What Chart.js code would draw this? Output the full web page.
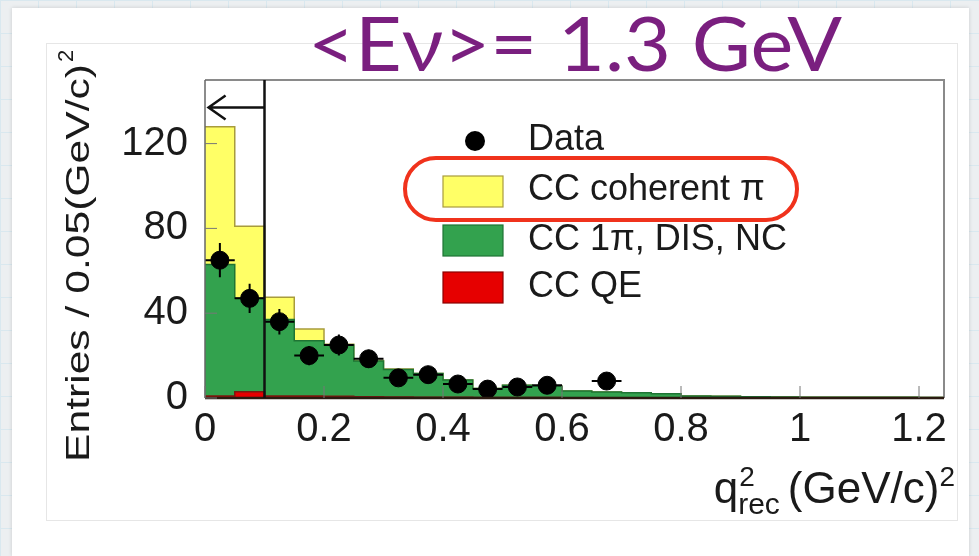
<!DOCTYPE html>
<html><head><meta charset="utf-8">
<script src="https://cdn.jsdelivr.net/npm/chart.js@4.4.1/dist/chart.umd.min.js"></script>
<style>
html,body{margin:0;padding:0;}
body{width:979px;height:556px;position:relative;overflow:hidden;background-color:#eceff1;
background-image:linear-gradient(#d9e8ef 1px,transparent 1px),linear-gradient(90deg,#d9e8ef 1px,transparent 1px);background-size:38px 33px;}
#panel{position:absolute;left:12px;top:8px;right:10px;bottom:0;background:#fff;box-shadow:0 0 4px rgba(0,0,0,0.15);}
#card{position:absolute;left:46px;top:43px;width:910px;height:476px;border:1px solid #e6e6e6;background:#fff;}
canvas{position:absolute;left:0;top:0;}
</style></head><body>
<div id="panel"></div><div id="card"></div>
<canvas id="c" width="979" height="556"></canvas>
<script>
// ---- data ----
const binLeftEdges = [0,0.05,0.1,0.15,0.2,0.25,0.3,0.35,0.4,0.45,0.5,0.55,0.6,0.65,0.7,0.75,0.8,0.85,0.9,0.95,1.0,1.05,1.1,1.15,1.2];
const histEnd = 1.25;
const ccQE       = [1,3,1,1,0.8,0.6,0.5,0.4,0.3,0.2,0.2,0.2,0.1,0.1,0,0,0,0,0,0,0,0,0,0,0];
const cc1piDisNc = [62,44,36,26,24.2,16.9,13,11.1,8.2,4.3,5.8,5.3,3.2,2.7,2.5,2,1,0.8,0.6,0.5,0.4,0.4,0.3,0.3,0.2];
const ccCoherent = [65,34,10.5,5.5,0.3,0.2,0.2,0.1,0,0,0,0,0,0,0,0,0,0,0,0,0,0,0,0,0];
const dataX   = [0.025,0.075,0.125,0.175,0.225,0.275,0.325,0.375,0.425,0.475,0.525,0.575,0.625,0.675];
const dataY   = [65,47,36,20,25,18.5,9.5,11,6.6,4.2,5.2,6,null,8];
const dataErr = [8.1,6.9,6,4.5,5,4.3,3.1,3.3,2.6,2,2.3,2.4,null,2.8];
const binHalfWidth = 0.025;
const xTickValues = [0,0.2,0.4,0.6,0.8,1.0,1.2];
const xTickLabels = ['0','0.2','0.4','0.6','0.8','1','1.2'];
const yTickValues = [0,40,80,120];
const yTickLabels = ['0','40','80','120'];
const cutValue = 0.1, arrowValue = 137, arrowTipValue = 0.006;
const legendLabels = ['Data','CC coherent \u03c0','CC 1\u03c0, DIS, NC','CC QE'];
const titleText = '<E\u03bd>= 1.3 GeV';

const FONT = "'Liberation Sans', Arial, sans-serif";
const C_YEL = '#ffff66', C_YEL_B = '#a89c3c';
const C_GRN = '#33a24e', C_GRN_B = '#1f7434';
const C_RED = '#e60000', C_RED_B = '#7a1a10';

function steps(vals){
  const pts = binLeftEdges.map((e,i)=>({x:e,y:vals[i]}));
  pts.push({x:histEnd,y:vals[vals.length-1]});
  return pts;
}

const overlay = {
  id:'overlay',
  afterDatasetsDraw(chart){
    const {ctx, chartArea:a, scales:{x,y}} = chart;
    ctx.save();
    // error bars
    ctx.strokeStyle='#000'; ctx.lineWidth=2;
    dataX.forEach((xv,i)=>{
      const v=dataY[i]; if(v==null) return;
      const px=x.getPixelForValue(xv), py=y.getPixelForValue(v);
      ctx.beginPath();
      ctx.moveTo(x.getPixelForValue(xv-binHalfWidth),py); ctx.lineTo(x.getPixelForValue(xv+binHalfWidth),py);
      ctx.moveTo(px,y.getPixelForValue(v-dataErr[i])); ctx.lineTo(px,y.getPixelForValue(v+dataErr[i]));
      ctx.stroke();
    });
    // frame
    ctx.lineWidth=2; ctx.strokeStyle='#8a8a8a';
    ctx.beginPath(); ctx.moveTo(a.left,a.top); ctx.lineTo(a.right,a.top); ctx.lineTo(a.right,a.bottom); ctx.stroke();
    ctx.strokeStyle='#666'; ctx.lineWidth=1.5;
    ctx.beginPath(); ctx.moveTo(a.left,a.top); ctx.lineTo(a.left,a.bottom); ctx.stroke();
    ctx.strokeStyle='#2a1a10'; ctx.lineWidth=2.5;
    ctx.beginPath(); ctx.moveTo(a.left,a.bottom); ctx.lineTo(a.right,a.bottom); ctx.stroke();
    // ticks
    ctx.strokeStyle='#777'; ctx.lineWidth=1;
    xTickValues.forEach(v=>{const px=x.getPixelForValue(v); ctx.beginPath(); ctx.moveTo(px,a.bottom); ctx.lineTo(px,a.bottom-12); ctx.stroke();});
    yTickValues.forEach(v=>{const py=y.getPixelForValue(v); ctx.beginPath(); ctx.moveTo(a.left,py); ctx.lineTo(a.left+12,py); ctx.stroke();});
    // cut line + arrow
    const cx = x.getPixelForValue(cutValue), ay = y.getPixelForValue(arrowValue), tx = x.getPixelForValue(arrowTipValue);
    ctx.strokeStyle='#111'; ctx.lineWidth=2.5;
    ctx.beginPath(); ctx.moveTo(cx,a.bottom); ctx.lineTo(cx,a.top); ctx.stroke();
    ctx.lineWidth=2.5;
    ctx.beginPath(); ctx.moveTo(cx,ay); ctx.lineTo(tx,ay);
    ctx.moveTo(tx+17,ay-12); ctx.lineTo(tx,ay); ctx.lineTo(tx+17,ay+12); ctx.stroke();
    ctx.restore();
  },
  afterDraw(chart){
    const ctx = chart.ctx;
    ctx.save();
    // legend
    ctx.fillStyle='#000';
    ctx.beginPath(); ctx.arc(475,141,10,0,Math.PI*2); ctx.fill();
    const boxes=[[C_YEL,C_YEL_B,176],[C_GRN,C_GRN_B,225],[C_RED,'#8a0000',272]];
    boxes.forEach(b=>{ctx.fillStyle=b[0]; ctx.fillRect(443,b[2],60,31); ctx.strokeStyle=b[1]; ctx.lineWidth=1.2; ctx.strokeRect(443,b[2],60,31);});
    ctx.fillStyle='#1a1a1a'; ctx.font='36px '+FONT; ctx.textBaseline='middle'; ctx.textAlign='left';
    const ly=[140,190,240,287];
    legendLabels.forEach((t,i)=>ctx.fillText(t,528,ly[i]));
    // highlight pill
    ctx.strokeStyle='#f0321c'; ctx.lineWidth=4;
    ctx.beginPath(); ctx.roundRect(405,158,392,62,31); ctx.stroke();
    // main title
    ctx.fillStyle='#7a1f7f'; ctx.font="76px Lato, 'Liberation Sans', sans-serif"; ctx.textBaseline='alphabetic';
    let w = ctx.measureText(titleText).width;
    ctx.save(); ctx.translate(308,71); ctx.scale(534/w,1); ctx.fillText(titleText,0,0); ctx.restore();
    // y title
    ctx.fillStyle='#1a1a1a';
    ctx.save(); ctx.translate(89,462); ctx.rotate(-Math.PI/2);
    ctx.font='33px '+FONT;
    const yMain='Entries / 0.05(GeV/c)';
    w = ctx.measureText(yMain).width;
    const sy = 398/w;
    ctx.save(); ctx.scale(sy,1); ctx.fillText(yMain,0,0); ctx.restore();
    ctx.font='22px '+FONT; ctx.fillText('2',398+2,-16);
    ctx.restore();
    // x title
    ctx.font='44px '+FONT;
    const wq=ctx.measureText('q').width, wg=ctx.measureText('(GeV/c)').width;
    ctx.font='28px '+FONT; const w2=ctx.measureText('2').width;
    ctx.font='30px '+FONT; const wr=ctx.measureText('rec').width;
    const total = wq + Math.max(w2,wr) + 8 + wg + w2;
    let x0 = 955 - total;
    ctx.font='44px '+FONT; ctx.fillText('q',x0,503);
    ctx.font='28px '+FONT; ctx.fillText('2',x0+wq+1,486);
    ctx.font='30px '+FONT; ctx.fillText('rec',x0+wq,514);
    let x1 = x0+wq+Math.max(w2,wr)+8;
    ctx.font='44px '+FONT; ctx.fillText('(GeV/c)',x1,503);
    ctx.font='28px '+FONT; ctx.fillText('2',x1+wg,486);
    ctx.restore();
  }
};

Chart.defaults.font.family = FONT;
new Chart(document.getElementById('c'),{
  type:'line',
  data:{datasets:[
    {label:'CC QE',data:steps(ccQE),stepped:'before',fill:'origin',backgroundColor:C_RED,borderColor:C_RED_B,borderWidth:1.5,pointRadius:0},
    {label:'CC 1pi, DIS, NC',data:steps(cc1piDisNc),stepped:'before',fill:'-1',backgroundColor:C_GRN,borderColor:C_GRN_B,borderWidth:1.5,pointRadius:0},
    {label:'CC coherent pi',data:steps(ccCoherent),stepped:'before',fill:'-1',backgroundColor:C_YEL,borderColor:C_YEL_B,borderWidth:1.5,pointRadius:0},
    {type:'scatter',label:'Data',stack:'data',order:-1,data:dataX.map((xv,i)=>({x:xv,y:dataY[i]})),pointRadius:9,pointBackgroundColor:'#000',pointBorderColor:'#000',showLine:false}
  ]},
  options:{
    responsive:false,animation:false,
    layout:{padding:{left:0,top:80,right:35,bottom:0}},
    plugins:{legend:{display:false},tooltip:{enabled:false},title:{display:false}},
    scales:{
      x:{type:'linear',min:0,max:1.242,grid:{display:false,drawTicks:false},border:{display:false},
         afterBuildTicks:s=>{s.ticks=xTickValues.map(v=>({value:v}));},
         afterFit:s=>{s.height=158;},
         ticks:{padding:8,color:'#1a1a1a',font:{size:40},maxRotation:0,autoSkip:false,
           callback:(v,i)=>xTickLabels[i]}},
      y:{type:'linear',stacked:true,min:0,max:150,grid:{display:false,drawTicks:false},border:{display:false},
         afterBuildTicks:s=>{s.ticks=yTickValues.map(v=>({value:v}));},
         afterFit:s=>{s.width=205;},
         ticks:{padding:17,color:'#1a1a1a',font:{size:40},callback:(v,i)=>yTickLabels[i]}}
    }
  },
  plugins:[overlay]
});
</script>
</body></html>
